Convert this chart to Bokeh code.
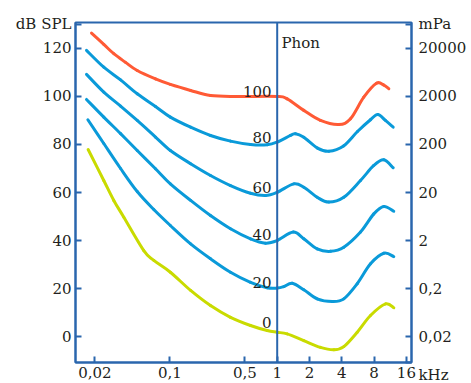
import math
from bokeh.plotting import figure
from bokeh.models import LinearAxis, FixedTicker, Span, Label, Range1d
from bokeh.embed import file_html
from bokeh.resources import INLINE

# ---------------- data ----------------
freq_ticks = [0.02, 0.1, 0.5, 1, 2, 4, 8, 16]
freq_tick_labels = ["0,02", "0,1", "0,5", "1", "2", "4", "8", "16"]
spl_ticks = [0, 20, 40, 60, 80, 100, 120]
spl_tick_labels = ["0", "20", "40", "60", "80", "100", "120"]
mpa_tick_labels = ["0,02", "0,2", "2", "20", "200", "2000", "20000"]
x_unit = "kHz"
left_unit = "dB SPL"
right_unit = "mPa"
curve_unit = "Phon"

phon_levels = [100, 80, 60, 40, 20, 0]

f_100 = [0.0186, 0.0242, 0.030, 0.0386, 0.0496, 0.0734, 0.101, 0.156, 0.239, 0.424,
         1.0, 1.24, 1.77, 2.53, 3.75, 4.82, 6.41, 8.42, 9.79, 10.97]
spl_100 = [126.4, 121.7, 117.8, 114.2, 110.8, 107.3, 105.0, 102.5, 100.4, 100.0,
           100.0, 99.0, 94.2, 90.0, 88.3, 90.7, 99.7, 105.5, 104.8, 103.2]

f_80 = [0.0167, 0.0242, 0.0347, 0.0496, 0.0734, 0.101, 0.156, 0.239, 0.367, 0.564, 0.807,
        1.0, 1.33, 1.48, 1.77, 2.375, 3.03, 4.15, 5.6, 7.4, 8.66, 10.2, 12.05]
spl_80 = [119.2, 112.2, 106.9, 101.1, 95.8, 91.4, 87.2, 83.75, 81.4, 80.0, 79.9,
          81.0, 83.75, 84.5, 83.0, 78.5, 77.2, 79.4, 85.4, 90.3, 92.5, 90.0, 87.2]

f_60 = [0.0167, 0.0242, 0.0347, 0.0496, 0.0734, 0.101, 0.156, 0.239, 0.367, 0.564, 0.778,
        1.0, 1.428, 1.77, 2.36, 3.03, 4.175, 5.975, 7.95, 9.85, 12.05]
spl_60 = [109.2, 101.8, 96.0, 90.0, 83.1, 77.5, 72.0, 67.1, 62.9, 59.7, 58.75,
          60.1, 63.6, 62.2, 58.0, 56.0, 58.0, 65.0, 71.25, 73.6, 70.3]

f_40 = [0.0167, 0.0242, 0.0347, 0.0496, 0.0734, 0.101, 0.156, 0.239, 0.367, 0.564, 0.778,
        1.0, 1.41, 1.77, 2.36, 3.14, 4.175, 5.975, 7.95, 9.85, 12.2]
spl_40 = [98.75, 91.4, 84.5, 77.5, 69.9, 63.6, 56.7, 50.4, 44.9, 40.7, 38.9,
          40.0, 43.5, 40.7, 36.5, 35.5, 37.2, 43.5, 51.1, 54.2, 52.2]

f_20 = [0.0172, 0.0242, 0.0347, 0.0496, 0.0708, 0.101, 0.156, 0.239, 0.367, 0.564, 0.807,
        1.0, 1.152, 1.38, 1.77, 2.36, 3.255, 4.175, 5.568, 7.404, 9.851, 12.21]
spl_20 = [90.3, 80.4, 70.0, 60.4, 52.9, 46.25, 38.6, 32.4, 26.8, 22.6, 20.3,
          20.2, 20.8, 22.2, 19.5, 15.7, 14.6, 15.7, 22.0, 30.3, 34.7, 33.3]

f_0 = [0.0173, 0.0242, 0.030, 0.0372, 0.0571, 0.0708, 0.101, 0.156, 0.239, 0.367, 0.564,
       0.807, 1.0, 1.24, 1.77, 2.53, 3.37, 4.175, 5.57, 7.4, 10.22, 12.21]
spl_0 = [77.9, 65.0, 56.7, 49.7, 35.8, 31.7, 26.8, 19.2, 12.9, 8.0, 4.6,
         2.5, 1.8, 1.1, -1.7, -4.5, -5.5, -4.2, 1.8, 8.75, 13.6, 12.0]

# ---------------- style ----------------
FONT = "DejaVu Serif"
FS = "15px"
TEXT = "#231f20"
FRAME = "#2a66ad"
RED = "#ff5a35"
BLUE = "#0a9ad9"
YELLOW = "#c9db00"

x_lo, x_hi = 0.01319, 17.85
y_lo, y_hi = -10.8, 130.8
unit_y = 130.0        # where the axis unit captions sit (top corners)

p = figure(width=471, height=383, x_axis_type="log",
           x_range=Range1d(x_lo, x_hi), y_range=Range1d(y_lo, y_hi),
           output_backend="svg", toolbar_location=None,
           min_border_left=75, min_border_right=60, min_border_top=22, min_border_bottom=21)
p.background_fill_color = "white"
p.border_fill_color = "white"
p.outline_line_color = FRAME
p.outline_line_width = 2
p.xgrid.visible = False
p.ygrid.visible = False


def style_axis(ax, standoff):
    ax.axis_line_color = FRAME
    ax.axis_line_width = 2
    ax.major_tick_line_color = FRAME
    ax.major_tick_line_width = 2
    ax.major_tick_in = 6
    ax.major_tick_out = 0
    ax.minor_tick_line_color = None
    ax.major_label_text_font = FONT
    ax.major_label_text_font_size = FS
    ax.major_label_text_color = TEXT
    ax.major_label_standoff = standoff


xa = p.xaxis[0]
xa.ticker = FixedTicker(ticks=freq_ticks)
xa.major_label_overrides = {t: l for t, l in zip(freq_ticks, freq_tick_labels)}
style_axis(xa, 4)

ya = p.yaxis[0]
ya.ticker = FixedTicker(ticks=spl_ticks + [unit_y])
y_over = {t: l for t, l in zip(spl_ticks, spl_tick_labels)}
y_over[unit_y] = left_unit
ya.major_label_overrides = y_over
style_axis(ya, 4)

# right axis: mPa scale, its unit at the top and the kHz unit at the bottom corner
r_over = {t: l for t, l in zip(spl_ticks, mpa_tick_labels)}
r_over[unit_y] = right_unit
r_over[y_lo] = "\n\n" + x_unit
ra = LinearAxis(ticker=FixedTicker(ticks=spl_ticks + [unit_y, y_lo]), major_label_overrides=r_over)
style_axis(ra, 7)
p.add_layout(ra, "right")

# 1 kHz reference line
p.add_layout(Span(location=1, dimension="height", line_color=FRAME, line_width=2))


def smooth_curve(fx, sy, color):
    """Draw the read points as one smooth path (Catmull-Rom -> cubic Bezier in log-f space)."""
    u = [math.log10(v) for v in fx]
    n = len(u)
    d = dict(x0=[], y0=[], x1=[], y1=[], cx0=[], cy0=[], cx1=[], cy1=[])
    for i in range(n - 1):
        a = max(i - 1, 0)
        b = min(i + 2, n - 1)
        d["x0"].append(fx[i]); d["y0"].append(sy[i])
        d["x1"].append(fx[i + 1]); d["y1"].append(sy[i + 1])
        d["cx0"].append(10 ** (u[i] + (u[i + 1] - u[a]) / 6))
        d["cy0"].append(sy[i] + (sy[i + 1] - sy[a]) / 6)
        d["cx1"].append(10 ** (u[i + 1] - (u[b] - u[i]) / 6))
        d["cy1"].append(sy[i + 1] - (sy[b] - sy[i]) / 6)
    p.bezier(line_color=color, line_width=3, line_cap="round", **d)


curves = [(f_100, spl_100, RED), (f_80, spl_80, BLUE), (f_60, spl_60, BLUE),
          (f_40, spl_40, BLUE), (f_20, spl_20, BLUE), (f_0, spl_0, YELLOW)]
for fx, sy, col in curves:
    smooth_curve(fx, sy, col)

# phon labels next to the 1 kHz line
label_baseline = [102.2, 83.0, 62.2, 42.5, 22.6, 5.7]
for lvl, yb in zip(phon_levels, label_baseline):
    p.add_layout(Label(x=0.885, y=yb, text=str(lvl), text_align="right",
                       text_baseline="alphabetic", text_font=FONT,
                       text_font_size=FS, text_color=TEXT))

p.add_layout(Label(x=1.097, y=122.2, text=curve_unit, text_align="left",
                   text_baseline="alphabetic", text_font=FONT,
                   text_font_size=FS, text_color=TEXT))

open("out.html", "w").write(file_html(p, INLINE))
